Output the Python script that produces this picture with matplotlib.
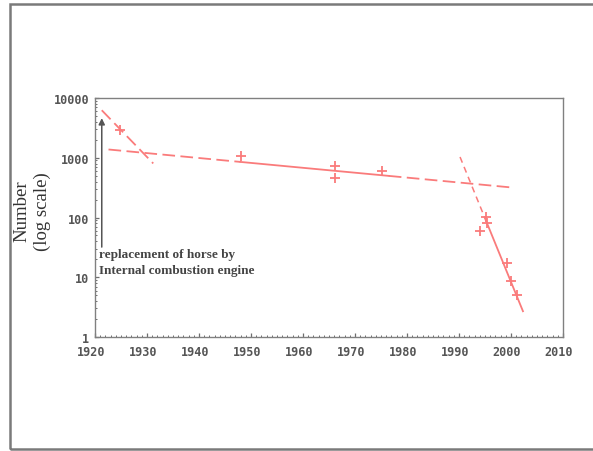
import matplotlib
matplotlib.use("Agg")
import matplotlib.pyplot as plt
import matplotlib.ticker as ticker
import matplotlib.transforms as mtransforms
from matplotlib.patches import Rectangle

# observed counts
years = [1924.8, 1948.0, 1966.2, 1966.2, 1975.1,
         1994.0, 1995.1, 1995.3, 1999.2, 2000.0, 2001.1]
counts = [2970, 1050, 725, 463, 611,
          60, 101, 80, 17, 8.6, 5.1]

# trend lines (log-linear), dashed = extrapolated, solid = fitted range
early_years = [1921.3, 1931.2]
early_vals = [6240, 803]

mid_dash1_years = [1922.6, 1948.0]
mid_dash1_vals = [1375, 851]
mid_solid_years = [1948.0, 1976.5]
mid_solid_vals = [851, 497]
mid_dash2_years = [1976.5, 1999.8]
mid_dash2_vals = [497, 320]

late_dash_years = [1990.2, 1995.0]
late_dash_vals = [1030, 97]
late_solid_years = [1995.0, 2002.3]
late_solid_vals = [97, 2.7]

red = '#fa7b7b'
grey = '#6e6e6e'

fig = plt.figure(figsize=(5.93, 4.52), dpi=100)
ax = fig.add_axes([95/593, 1 - 338/452, 468/593, 239/452])

ax.plot(early_years, early_vals, color=red, lw=1.3, dashes=(7, 3))
ax.plot(mid_dash1_years, mid_dash1_vals, color=red, lw=1.3, dashes=(7, 3))
ax.plot(mid_solid_years, mid_solid_vals, color=red, lw=1.3)
ax.plot(mid_dash2_years, mid_dash2_vals, color=red, lw=1.3, dashes=(7, 3))
ax.plot(late_dash_years, late_dash_vals, color=red, lw=1.1, dashes=(4, 3))
ax.plot(late_solid_years, late_solid_vals, color=red, lw=1.3)
ax.plot(years, counts, '+', color=red, ms=7, mew=1.3, ls='none')

ax.set_yscale('log')
ax.set_xlim(1920, 2010)
ax.set_ylim(1, 10000)

ax.xaxis.set_major_locator(ticker.MultipleLocator(10))
ax.xaxis.set_minor_locator(ticker.MultipleLocator(1))
ax.yaxis.set_major_locator(ticker.LogLocator(base=10))
ax.yaxis.set_minor_locator(ticker.LogLocator(base=10, subs=range(2, 10)))
ax.yaxis.set_major_formatter(ticker.FuncFormatter(lambda v, p: '%d' % v))
ax.yaxis.set_minor_formatter(ticker.NullFormatter())

ax.tick_params(which='major', direction='in', length=3, width=0.9, color=grey,
               labelsize=8.5, labelcolor='#555555')
ax.tick_params(which='minor', direction='in', length=1.5, width=0.7, color=grey)
ax.tick_params(axis='x', pad=6)
ax.tick_params(axis='y', pad=4)
for lab in ax.get_xticklabels() + ax.get_yticklabels():
    lab.set_family('DejaVu Sans Mono')
    lab.set_weight('bold')
shift = mtransforms.ScaledTranslation(-4/100, 0, fig.dpi_scale_trans)
for lab in ax.get_xticklabels():
    lab.set_transform(lab.get_transform() + shift)

for s in ax.spines.values():
    s.set_color('#808080')
    s.set_linewidth(1.0)

ax.set_ylabel('Number\n(log scale)', family='Liberation Serif', fontsize=13.5,
              color='#333333', linespacing=1.25)
ax.yaxis.set_label_coords(-0.094, 0.53)

ax.annotate('', xy=(1921.3, 4600), xytext=(1921.3, 32),
            arrowprops=dict(arrowstyle='-|>', color='#555555', lw=1.1,
                            mutation_scale=9, shrinkA=0, shrinkB=0))
ax.text(1920.8, 18, 'replacement of horse by\nInternal combustion engine',
        family='Liberation Serif', weight='bold', fontsize=9.5, color='#444444',
        va='center', ha='left', linespacing=1.45)

# outer frame
fig.patches.append(Rectangle((10/593, 2/452), 590/593, 445/452,
                             transform=fig.transFigure, fill=False,
                             edgecolor='#7a7a7a', lw=1.8))

fig.savefig('out.png', dpi=100)
